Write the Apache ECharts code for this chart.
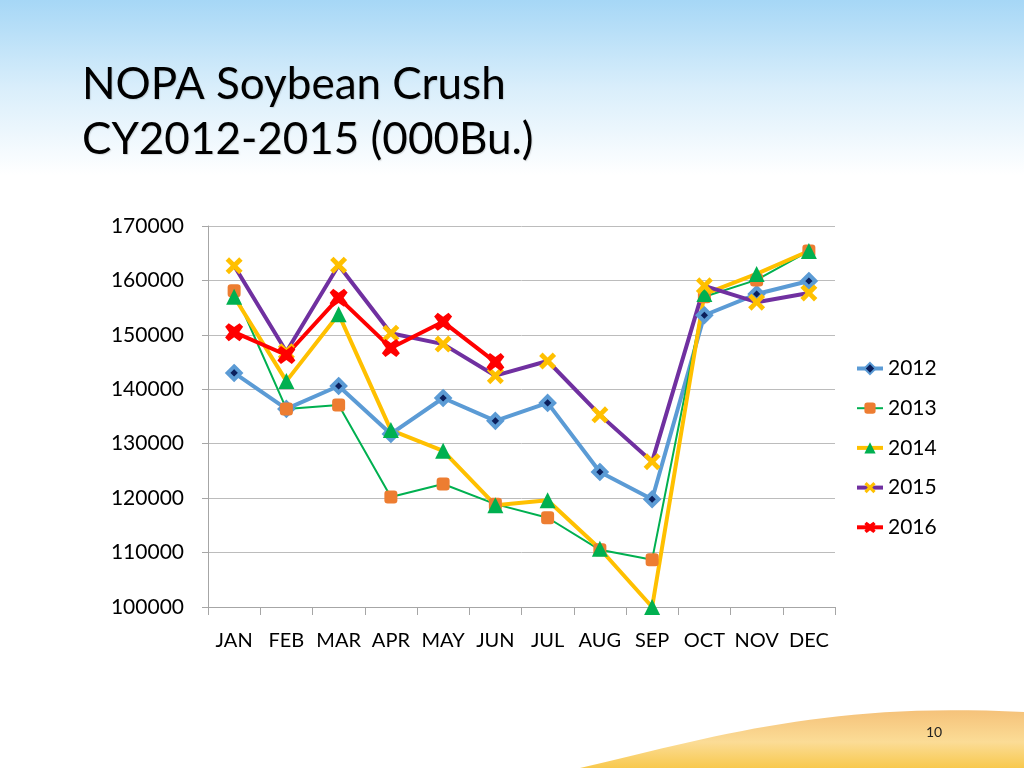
<!DOCTYPE html>
<html>
<head>
<meta charset="utf-8">
<script src="https://cdn.jsdelivr.net/npm/echarts@6/dist/echarts.min.js"></script>
<style>
  html, body { margin: 0; padding: 0; background: #fff; }
  #chart { width: 1024px; height: 768px; }
</style>
</head>
<body>
<div id="chart"></div>
<script>
const months = ['JAN', 'FEB', 'MAR', 'APR', 'MAY', 'JUN', 'JUL', 'AUG', 'SEP', 'OCT', 'NOV', 'DEC']
const crush2012 = [143000, 136400, 140600, 131800, 138400, 134200, 137500, 124800, 119800, 153600, 157500, 159900]
const crush2013 = [158100, 136400, 137100, 120200, 122600, 118900, 116400, 110500, 108700, 157000, 160100, 165400]
const crush2014 = [157000, 141500, 153800, 132500, 128700, 118700, 119600, 110700, 100000, 157500, 161200, 165400]
const crush2015 = [162700, 146900, 162800, 150300, 148300, 142500, 145200, 135300, 126700, 159000, 156000, 157700]
const crush2016 = [150500, 146300, 156800, 147600, 152400, 145000, null, null, null, null, null, null]
const yTicks = [100000, 170000, 10000] // min, max, step

const xShape = 'path://M0,2 L2,0 L5,3 L8,0 L10,2 L7,5 L10,8 L8,10 L5,7 L2,10 L0,8 L3,5 Z'
const starX = 'path://M0,2 L2,0 L5,2.2 L8,0 L10,2 L7.8,5 L10,8 L8,10 L5,7.8 L2,10 L0,8 L2.2,5 Z'

// swirl at the bottom right of the slide (decoration only)
function swirl(p0, p1, p2, p3) {
  const pts = []
  for (let i = 0; i <= 30; i++) {
    const t = i / 30
    const u = 1 - t
    pts.push([
      u * u * u * p0[0] + 3 * u * u * t * p1[0] + 3 * u * t * t * p2[0] + t * t * t * p3[0],
      u * u * u * p0[1] + 3 * u * u * t * p1[1] + 3 * u * t * t * p2[1] + t * t * t * p3[1]
    ])
  }
  pts.push([1024, 768])
  return pts
}

const chart = echarts.init(document.getElementById('chart'))

chart.setOption({
  animation: false,
  textStyle: { fontFamily: 'Lato, "Open Sans", sans-serif' },
  graphic: [
    {
      type: 'rect',
      z: -10,
      shape: { x: 0, y: 0, width: 1024, height: 175 },
      style: {
        fill: new echarts.graphic.LinearGradient(0, 0, 0, 1, [
          { offset: 0, color: '#a6d7f6' },
          { offset: 0.5, color: '#d9eefb' },
          { offset: 1, color: '#ffffff' }
        ])
      }
    },
    {
      type: 'polygon',
      z: -10,
      shape: { points: swirl([580, 768], [720, 735], [830, 702], [1024, 712]) },
      style: {
        fill: new echarts.graphic.LinearGradient(0, 0, 0, 1, [
          { offset: 0, color: '#f5c27a' },
          { offset: 0.55, color: '#fbdc96' },
          { offset: 1, color: '#f8c94e' }
        ])
      }
    },
    {
      type: 'text',
      left: 82,
      top: 57,
      style: {
        text: 'NOPA Soybean Crush\nCY2012-2015 (000Bu.)',
        font: '44px Lato, sans-serif',
        lineHeight: 55,
        fill: '#000',
        textShadowColor: 'rgba(0,0,0,0.12)',
        textShadowBlur: 1,
        textShadowOffsetX: 1,
        textShadowOffsetY: 1
      }
    },
    {
      type: 'text',
      left: 926,
      top: 725,
      style: { text: '10', font: '14px Lato, sans-serif', fill: '#222' }
    }
  ],
  grid: { left: 208, right: 189, top: 226, bottom: 161 },
  legend: {
    orient: 'vertical',
    left: 850,
    top: 353,
    itemGap: 18.7,
    itemWidth: 26,
    itemHeight: 14,
    lineStyle: { width: 'inherit' },
    textStyle: { fontSize: 21, color: '#000' },
    data: ['2012', '2013', '2014', '2015', '2016']
  },
  xAxis: {
    type: 'category',
    data: months,
    boundaryGap: true,
    axisLine: { lineStyle: { color: '#a6a6a6' } },
    axisTick: { show: true, length: 8, lineStyle: { color: '#a6a6a6' } },
    axisLabel: { interval: 0, fontSize: 20, color: '#000', margin: 24 }
  },
  yAxis: {
    type: 'value',
    min: yTicks[0],
    max: yTicks[1],
    interval: yTicks[2],
    axisLine: { show: true, lineStyle: { color: '#a6a6a6' } },
    axisTick: { show: true, length: 6, lineStyle: { color: '#a6a6a6' } },
    splitLine: { lineStyle: { color: '#bcbcbc' } },
    axisLabel: { fontSize: 21, color: '#000', margin: 24, formatter: v => String(v) }
  },
  series: [
    {
      name: '2012',
      type: 'line',
      data: crush2012,
      symbol: 'diamond',
      symbolSize: 13,
      lineStyle: { color: '#5b9bd5', width: 4 },
      itemStyle: { color: '#0b1f5c', borderColor: '#5b9bd5', borderWidth: 4 }
    },
    {
      name: '2013',
      type: 'line',
      data: crush2013,
      symbol: 'roundRect',
      symbolSize: 13,
      lineStyle: { color: '#00b050', width: 2 },
      itemStyle: { color: '#ed7d31' }
    },
    {
      name: '2014',
      type: 'line',
      data: crush2014,
      symbol: 'triangle',
      symbolSize: 16,
      lineStyle: { color: '#ffc000', width: 4 },
      itemStyle: { color: '#00b050' }
    },
    {
      name: '2015',
      type: 'line',
      data: crush2015,
      symbol: xShape,
      symbolSize: 17,
      lineStyle: { color: '#7030a0', width: 4 },
      itemStyle: { color: '#ffc000' }
    },
    {
      name: '2016',
      type: 'line',
      data: crush2016,
      symbol: starX,
      symbolSize: 18,
      lineStyle: { color: '#ff0000', width: 4 },
      itemStyle: { color: '#ff0000' }
    }
  ]
})
</script>
</body>
</html>
